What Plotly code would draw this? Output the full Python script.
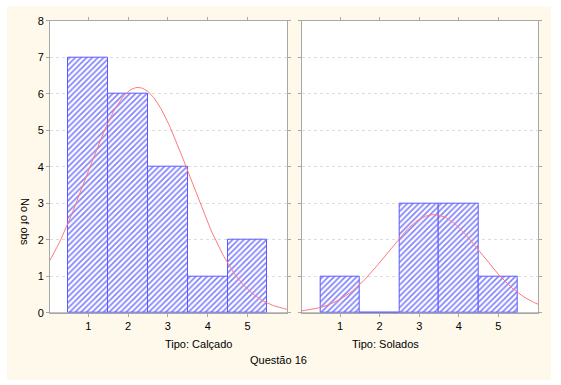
import numpy as np
import plotly.graph_objects as go

W, H = 561, 385

categories = [1, 2, 3, 4, 5]
calcado_counts = [7, 6, 4, 1, 2]
solados_counts = [1, 0, 3, 3, 1]
y_ticks = [0, 1, 2, 3, 4, 5, 6, 7, 8]
panel_titles = ["Tipo: Calçado", "Tipo: Solados"]
y_title = "No of obs"
main_title = "Questão 16"

FONT = "Liberation Sans, Arial, sans-serif"
BLUE = "#0000ff"
EDGE = "#5a5aff"
RED = "#ff7a7a"


def normal_fit(cats, counts, xr):
    vals = np.repeat(cats, counts).astype(float)
    n = len(vals)
    m = vals.mean()
    sd = vals.std(ddof=1)
    xs = np.linspace(xr[0], xr[1], 200)
    ys = n * 1.0 / (sd * np.sqrt(2 * np.pi)) * np.exp(-0.5 * ((xs - m) / sd) ** 2)
    return xs, ys


def px(x):
    return x / W


def py(y):
    return 1 - y / H


xr1 = [0.04, 5.99]
xr2 = [0.03, 6.01]

fig = go.Figure()

for counts, xa, ya, xr in [
    (calcado_counts, "x", "y", xr1),
    (solados_counts, "x2", "y2", xr2),
]:
    fig.add_trace(go.Bar(
        x=categories, y=counts, width=1.0, xaxis=xa, yaxis=ya,
        marker=dict(
            color="white",
            line=dict(color=EDGE, width=1),
            pattern=dict(shape="/", fgcolor=BLUE, bgcolor="white", size=4, solidity=0.4),
        ),
        showlegend=False, hoverinfo="skip",
    ))
    xs, ys = normal_fit(categories, counts, xr)
    fig.add_trace(go.Scatter(
        x=xs, y=ys, mode="lines", xaxis=xa, yaxis=ya,
        line=dict(color=RED, width=1), showlegend=False, hoverinfo="skip",
    ))

ydom = [py(312.7), py(20.7)]
axis_common = dict(
    showline=True, linecolor="#a8a8a8", linewidth=1, mirror="ticks",
    ticks="outside", ticklen=3, tickcolor="#a8a8a8",
    tickfont=dict(family=FONT, size=11, color="black"),
)
grid = dict(showgrid=True, gridcolor="#dcdcdc", griddash="dot", gridwidth=1,
            zeroline=True, zerolinecolor="#c0c0c0", zerolinewidth=2)

fig.update_layout(
    width=W, height=H,
    margin=dict(l=0, r=0, t=0, b=0, autoexpand=False),
    paper_bgcolor="white",
    plot_bgcolor="white",
    bargap=0,
    font=dict(family=FONT, size=11, color="black"),
    xaxis=dict(domain=[px(50), px(287)], range=xr1, tickvals=categories,
               showgrid=False, zeroline=False, anchor="y", **axis_common),
    xaxis2=dict(domain=[px(301.7), px(538.3)], range=xr2, tickvals=categories,
                showgrid=False, zeroline=False, anchor="y2", **axis_common),
    yaxis=dict(domain=ydom, range=[0, 8], tickvals=y_ticks, anchor="x",
               **grid, **axis_common),
    yaxis2=dict(domain=ydom, range=[0, 8], tickvals=y_ticks, anchor="x2",
                showticklabels=False, **grid, **axis_common),
    shapes=[
        dict(type="rect", xref="paper", yref="paper",
             x0=px(7), x1=px(551), y0=py(380), y1=py(6),
             fillcolor="#fff9ec", line=dict(width=0), layer="below"),
        dict(type="rect", xref="x domain", yref="y domain", x0=0, x1=1, y0=0, y1=1,
             fillcolor="white", line=dict(width=0), layer="below"),
        dict(type="rect", xref="x2 domain", yref="y2 domain", x0=0, x1=1, y0=0, y1=1,
             fillcolor="white", line=dict(width=0), layer="below"),
    ],
    annotations=[
        dict(text=panel_titles[0], xref="paper", yref="paper", x=px(163), y=py(352),
             showarrow=False, font=dict(family=FONT, size=11)),
        dict(text=panel_titles[1], xref="paper", yref="paper", x=px(421), y=py(352),
             showarrow=False, font=dict(family=FONT, size=11)),
        dict(text=main_title, xref="paper", yref="paper", x=px(278), y=py(368),
             showarrow=False, font=dict(family=FONT, size=11)),
        dict(text=y_title, xref="paper", yref="paper", x=px(17), y=py(222),
             showarrow=False, textangle=90, font=dict(family=FONT, size=11)),
    ],
)

fig.write_html("out.html", config={"displayModeBar": False},
               post_script="document.body.style.margin='0';document.body.style.padding='0';")
